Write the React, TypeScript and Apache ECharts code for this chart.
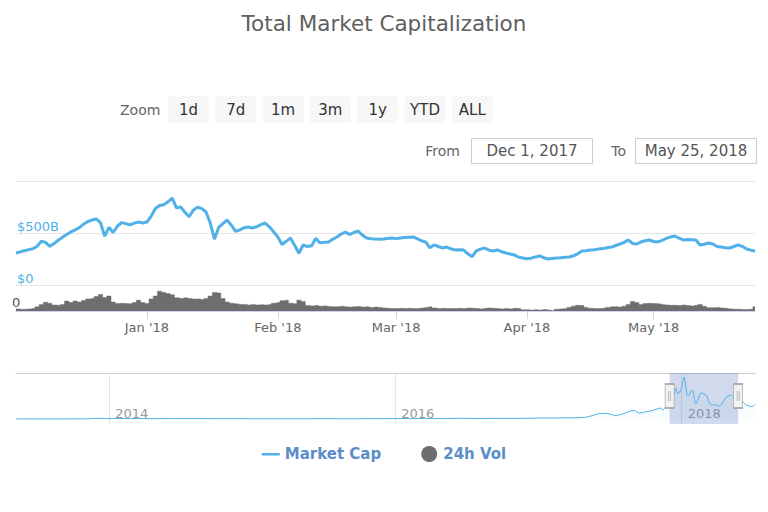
import React, { useEffect, useRef } from 'react';
import * as echarts from 'echarts';

// ---------- DATA ----------
const START_DATE = '2017-12-01';
// Total market cap, $B, one value per day from Dec 1, 2017 to May 25, 2018
const MARKET_CAP = [
  308, 318, 330, 340, 348, 372, 420, 410, 372, 398,
  430, 458, 485, 510, 530, 552, 585, 610, 625, 635,
  600, 470, 555, 505, 565, 600, 590, 578, 595, 606,
  596, 606, 660, 735, 765, 772, 800, 835, 742, 750,
  700, 656, 720, 748, 735, 702, 596, 440, 555, 590,
  625, 575, 515, 530, 550, 558, 548, 560, 580, 596,
  560, 512, 462, 390, 420, 452, 380, 305, 385, 370,
  378, 450, 405, 412, 414, 440, 462, 490, 508, 485,
  505, 519, 480, 452, 445, 442, 440, 442, 448, 452,
  446, 452, 456, 460, 462, 445, 425, 414, 358, 385,
  370, 356, 365, 348, 337, 340, 336, 300, 272, 327,
  345, 356, 335, 327, 337, 320, 308, 298, 289, 268,
  260, 252, 258, 270, 279, 262, 250, 255, 260, 262,
  266, 270, 280, 300, 327, 330, 337, 340, 346, 350,
  358, 365, 380, 394, 410, 433, 400, 394, 414, 425,
  433, 418, 414, 430, 448, 462, 471, 450, 433, 438,
  436, 433, 385, 392, 404, 395, 370, 365, 358, 356,
  370, 385, 372, 346, 335, 327,
];
// 24h volume, $B, same days
const VOLUME = [
  7, 6, 6, 7, 8, 14, 22, 29, 26, 20,
  19, 22, 33, 28, 33, 30, 35, 40, 42, 48,
  55, 45, 50, 30, 25, 26, 25, 24, 28, 36,
  28, 25, 40, 50, 66, 62, 58, 54, 44, 42,
  44, 42, 40, 40, 38, 42, 50, 62, 60, 42,
  30, 26, 24, 22, 22, 20, 22, 20, 21, 20,
  22, 26, 28, 34, 36, 26, 24, 36, 32, 18,
  17, 18, 16, 17, 15, 14, 14, 16, 14, 13,
  14, 15, 13, 14, 12, 13, 12, 10, 9, 8,
  8, 9, 8, 9, 8, 8, 10, 12, 14, 10,
  8, 9, 8, 8, 8, 9, 8, 10, 9, 8,
  7, 9, 10, 9, 8, 7, 8, 7, 9, 8,
  4, 4, 3, 4, 3, 5, 3, 2, 6, 7,
  8, 12, 16, 19, 18, 12, 9, 8, 8, 9,
  12, 14, 14, 13, 16, 22, 32, 28, 22, 25,
  26, 25, 24, 22, 20, 19, 19, 18, 20, 18,
  17, 19, 22, 16, 11, 11, 12, 10, 9, 7,
  6, 6, 5, 5, 6, 14,
];
const MONTH_TICKS = ['2018-01-01', '2018-02-01', '2018-03-01', '2018-04-01', '2018-05-01'];
const MONTH_NAMES = ['Jan', 'Feb', 'Mar', 'Apr', 'May', 'Jun', 'Jul', 'Aug', 'Sep', 'Oct', 'Nov', 'Dec'];

// Navigator: full history of total market cap, $B
const NAV_DATES = [
  '2013-05-08', '2013-06-15', '2013-08-01', '2013-09-15', '2013-10-20', '2013-11-15', '2013-12-04', '2013-12-20',
  '2014-01-06', '2014-02-10', '2014-03-15', '2014-04-15', '2014-06-01', '2014-07-15', '2014-09-01', '2014-10-15',
  '2014-12-01', '2015-01-15', '2015-03-01', '2015-05-01', '2015-07-10', '2015-09-01', '2015-11-05', '2016-01-01',
  '2016-03-01', '2016-05-01', '2016-06-18', '2016-08-05', '2016-10-01', '2016-12-01', '2017-01-05', '2017-02-01',
  '2017-03-01', '2017-04-01', '2017-05-01', '2017-05-25', '2017-06-12', '2017-07-01', '2017-07-16', '2017-08-01',
  '2017-09-01', '2017-09-15', '2017-10-01', '2017-10-20', '2017-11-08', '2017-11-12', '2017-11-28', '2017-12-08',
  '2017-12-17', '2017-12-22', '2017-12-31', '2018-01-07', '2018-01-17', '2018-01-28', '2018-02-06', '2018-02-20',
  '2018-03-05', '2018-03-18', '2018-03-28', '2018-04-07', '2018-04-24', '2018-05-06', '2018-05-25', '2018-06-06',
  '2018-06-12', '2018-06-29', '2018-07-07',
];
const NAV_VALUES = [
  1.6, 1.3, 1.3, 1.7, 2.2, 5, 14, 8,
  11, 8.5, 7.5, 5.5, 8.5, 8, 6.8, 5.5,
  5.4, 3.3, 4, 3.5, 4.5, 3.7, 5.8, 6.9,
  7.4, 8.3, 12.5, 9.8, 11, 13, 18, 17,
  22, 24, 33, 85, 112, 100, 68, 95,
  170, 115, 140, 170, 215, 180, 300, 380,
  610, 500, 600, 830, 450, 570, 300, 515,
  460, 275, 280, 255, 430, 470, 330, 340,
  290, 245, 290,
];
const NAV_YEAR_TICKS = ['2014-01-01', '2016-01-01', '2018-01-01'];
const SELECTION = ['2017-12-01', '2018-05-25'];

const RANGE_BUTTONS = ['1d', '7d', '1m', '3m', '1y', 'YTD', 'ALL'];
const FROM_TEXT = 'Dec 1, 2017';
const TO_TEXT = 'May 25, 2018';

// ---------- HELPERS ----------
const parseDate = (s: string) => {
  const [y, m, d] = s.split('-').map(Number);
  return new Date(y, m - 1, d).getTime();
};
const startParts = START_DATE.split('-').map(Number);
const DAYS = MARKET_CAP.map((_, i) => new Date(startParts[0], startParts[1] - 1, startParts[2] + i).getTime());

const FONT = 'DejaVu Sans, sans-serif';
const BLUE = '#4fb1e8';
const GRAY_VOL = '#6e6e6e';

export default function App() {
  const ref = useRef<HTMLDivElement>(null);

  useEffect(() => {
    if (!ref.current) return;
    const chart = echarts.init(ref.current, undefined, { renderer: 'svg' });

    const mainMin = DAYS[0];
    const mainMax = DAYS[DAYS.length - 1];
    const navMin = parseDate(NAV_DATES[0]);
    const navMax = parseDate(NAV_DATES[NAV_DATES.length - 1]);

    const capData = DAYS.map((t, i) => [t, MARKET_CAP[i]]);
    const volData = DAYS.map((t, i) => [t, VOLUME[i]]);
    const navData = NAV_DATES.map((d, i) => [parseDate(d), NAV_VALUES[i]]);
    const monthTicks = MONTH_TICKS.map(parseDate);
    const yearTicks = NAV_YEAR_TICKS.map(parseDate);

    const btnX0 = 168;
    const btnStep = 47.3;
    const btnW = 41;
    const graphics: any[] = [
      {
        type: 'text', x: 120, y: 110,
        style: { text: 'Zoom', fill: '#666', fontSize: 14, fontFamily: FONT, align: 'left', verticalAlign: 'middle' },
      },
    ];
    RANGE_BUTTONS.forEach((b, i) => {
      const x = btnX0 + i * btnStep;
      graphics.push({
        type: 'rect', shape: { x, y: 96, width: btnW, height: 27, r: 2 },
        style: { fill: '#f7f7f7' },
      });
      graphics.push({
        type: 'text', x: x + btnW / 2, y: 110,
        style: { text: b, fill: '#333', fontSize: 15, fontFamily: FONT, align: 'center', verticalAlign: 'middle' },
      });
    });
    graphics.push(
      {
        type: 'text', x: 460, y: 151,
        style: { text: 'From', fill: '#666', fontSize: 14, fontFamily: FONT, align: 'right', verticalAlign: 'middle' },
      },
      {
        type: 'rect', shape: { x: 471.5, y: 138.5, width: 121, height: 25 },
        style: { fill: '#fff', stroke: '#cccccc', lineWidth: 1 },
      },
      {
        type: 'text', x: 532, y: 151,
        style: { text: FROM_TEXT, fill: '#555', fontSize: 15, fontFamily: FONT, align: 'center', verticalAlign: 'middle' },
      },
      {
        type: 'text', x: 626, y: 151,
        style: { text: 'To', fill: '#666', fontSize: 14, fontFamily: FONT, align: 'right', verticalAlign: 'middle' },
      },
      {
        type: 'rect', shape: { x: 635.5, y: 138.5, width: 121, height: 25 },
        style: { fill: '#fff', stroke: '#cccccc', lineWidth: 1 },
      },
      {
        type: 'text', x: 696, y: 151,
        style: { text: TO_TEXT, fill: '#555', fontSize: 15, fontFamily: FONT, align: 'center', verticalAlign: 'middle' },
      }
    );

    const handlePath = 'path://M0,0H9V24H0Z M3.5,7V17 M5.5,7V17';
    // thin bar icon inside an 18x16 box (tiny corner segments keep the box size)
    const lineIcon = 'path://M0,0L0.01,0 M0,7H18V9.5H0Z M18,16L17.99,16';

    chart.setOption({
      animation: false,
      backgroundColor: '#fff',
      title: {
        text: 'Total Market Capitalization',
        left: 'center',
        top: 7,
        textStyle: { color: '#606060', fontSize: 21.5, fontWeight: 'normal', fontFamily: FONT },
      },
      legend: {
        data: [{ name: 'Market Cap', icon: lineIcon }, { name: '24h Vol', icon: 'circle' }],
        left: 'center',
        top: 441,
        itemWidth: 18,
        itemHeight: 16,
        itemGap: 40,
        textStyle: { color: '#5b8ec9', fontSize: 15, fontWeight: 'bold', fontFamily: FONT },
      },
      grid: [
        { left: 16, right: 13, top: 181, height: 104 },
        { left: 16, right: 13, top: 287, height: 24 },
        { left: 16, right: 13, top: 373, height: 51 },
      ],
      xAxis: [
        { type: 'value', gridIndex: 0, min: mainMin, max: mainMax, show: false, splitLine: { show: false } },
        {
          type: 'value', gridIndex: 1, min: mainMin, max: mainMax,
          axisLine: { show: true, lineStyle: { color: '#ccd6eb' } },
          axisTick: { show: true, length: 8, lineStyle: { color: '#ccd6eb' }, customValues: monthTicks },
          axisLabel: {
            customValues: monthTicks,
            color: '#666', fontSize: 13, fontFamily: FONT, margin: 10,
            formatter: (v: number) => {
              const d = new Date(v);
              return MONTH_NAMES[d.getMonth()] + " '" + String(d.getFullYear()).slice(2);
            },
          },
          splitLine: { show: false },
        },
        {
          type: 'value', gridIndex: 2, min: navMin, max: navMax,
          axisLine: { show: false },
          axisTick: { show: false, customValues: yearTicks },
          axisLabel: {
            inside: true, customValues: yearTicks, align: 'left', margin: 4,
            padding: [0, 0, 0, 6],
            color: '#999', fontSize: 13, fontFamily: FONT,
            formatter: (v: number) => String(new Date(v).getFullYear()),
          },
          splitLine: { show: true, lineStyle: { color: '#e6e6e6', width: 1 } },
        },
        {
          type: 'value', gridIndex: 2, position: 'top', min: navMin, max: navMax,
          axisLine: { show: true, lineStyle: { color: '#cccccc' } },
          axisTick: { show: false }, axisLabel: { show: false }, splitLine: { show: false },
        },
      ],
      yAxis: [
        {
          type: 'value', gridIndex: 0, min: 0, max: 1000, interval: 500,
          axisLine: { show: false }, axisTick: { show: false },
          axisLabel: {
            inside: true, margin: 1, verticalAlign: 'bottom',
            color: BLUE, fontSize: 13, fontFamily: FONT,
            formatter: (v: number) => (v === 0 ? '$0' : v === 500 ? '$500B' : ''),
          },
          splitLine: { show: true, lineStyle: { color: '#e6e6e6', width: 1 } },
        },
        {
          type: 'value', gridIndex: 1, min: 0, max: 80, interval: 80,
          axisLine: { show: false }, axisTick: { show: false },
          axisLabel: {
            inside: true, margin: -4, verticalAlign: 'bottom', padding: [0, 0, 2, 0],
            color: '#555', fontSize: 13, fontFamily: FONT,
            formatter: (v: number) => (v === 0 ? '0' : ''),
          },
          splitLine: { show: false },
        },
        { type: 'value', gridIndex: 2, min: -100, max: 910, show: false, splitLine: { show: false } },
      ],
      series: [
        {
          name: 'Market Cap', type: 'line', xAxisIndex: 0, yAxisIndex: 0,
          data: capData, symbol: 'none', showSymbol: false,
          lineStyle: { color: BLUE, width: 3 }, itemStyle: { color: BLUE },
          z: 3,
        },
        {
          name: '24h Vol', type: 'line', xAxisIndex: 1, yAxisIndex: 1, step: 'middle',
          data: volData, symbol: 'none', showSymbol: false,
          lineStyle: { color: GRAY_VOL, width: 0.5 },
          areaStyle: { color: GRAY_VOL, opacity: 1 },
          itemStyle: { color: GRAY_VOL },
          z: 2,
        },
        {
          name: 'Navigator', type: 'line', xAxisIndex: 2, yAxisIndex: 2,
          data: navData, symbol: 'none', showSymbol: false, smooth: 0.3,
          lineStyle: { color: BLUE, width: 1 },
          areaStyle: { color: 'rgba(79,177,232,0.06)' },
          silent: true,
          markArea: {
            silent: true,
            itemStyle: { color: 'rgba(102,133,194,0.3)' },
            data: [[{ xAxis: parseDate(SELECTION[0]) }, { xAxis: parseDate(SELECTION[1]) }]],
          },
          markPoint: {
            silent: true,
            symbol: handlePath,
            symbolSize: [9, 24],
            symbolKeepAspect: false,
            label: { show: false },
            itemStyle: { color: '#f2f2f2', borderColor: '#999', borderWidth: 1 },
            data: [
              { coord: [parseDate(SELECTION[0]), 455] },
              { coord: [parseDate(SELECTION[1]), 455] },
            ],
          },
        },
      ],
      graphic: graphics,
    });

    return () => chart.dispose();
  }, []);

  return (
    <div
      ref={ref}
      style={{ position: 'fixed', left: 0, top: 0, width: 768, height: 512 }}
    />
  );
}
